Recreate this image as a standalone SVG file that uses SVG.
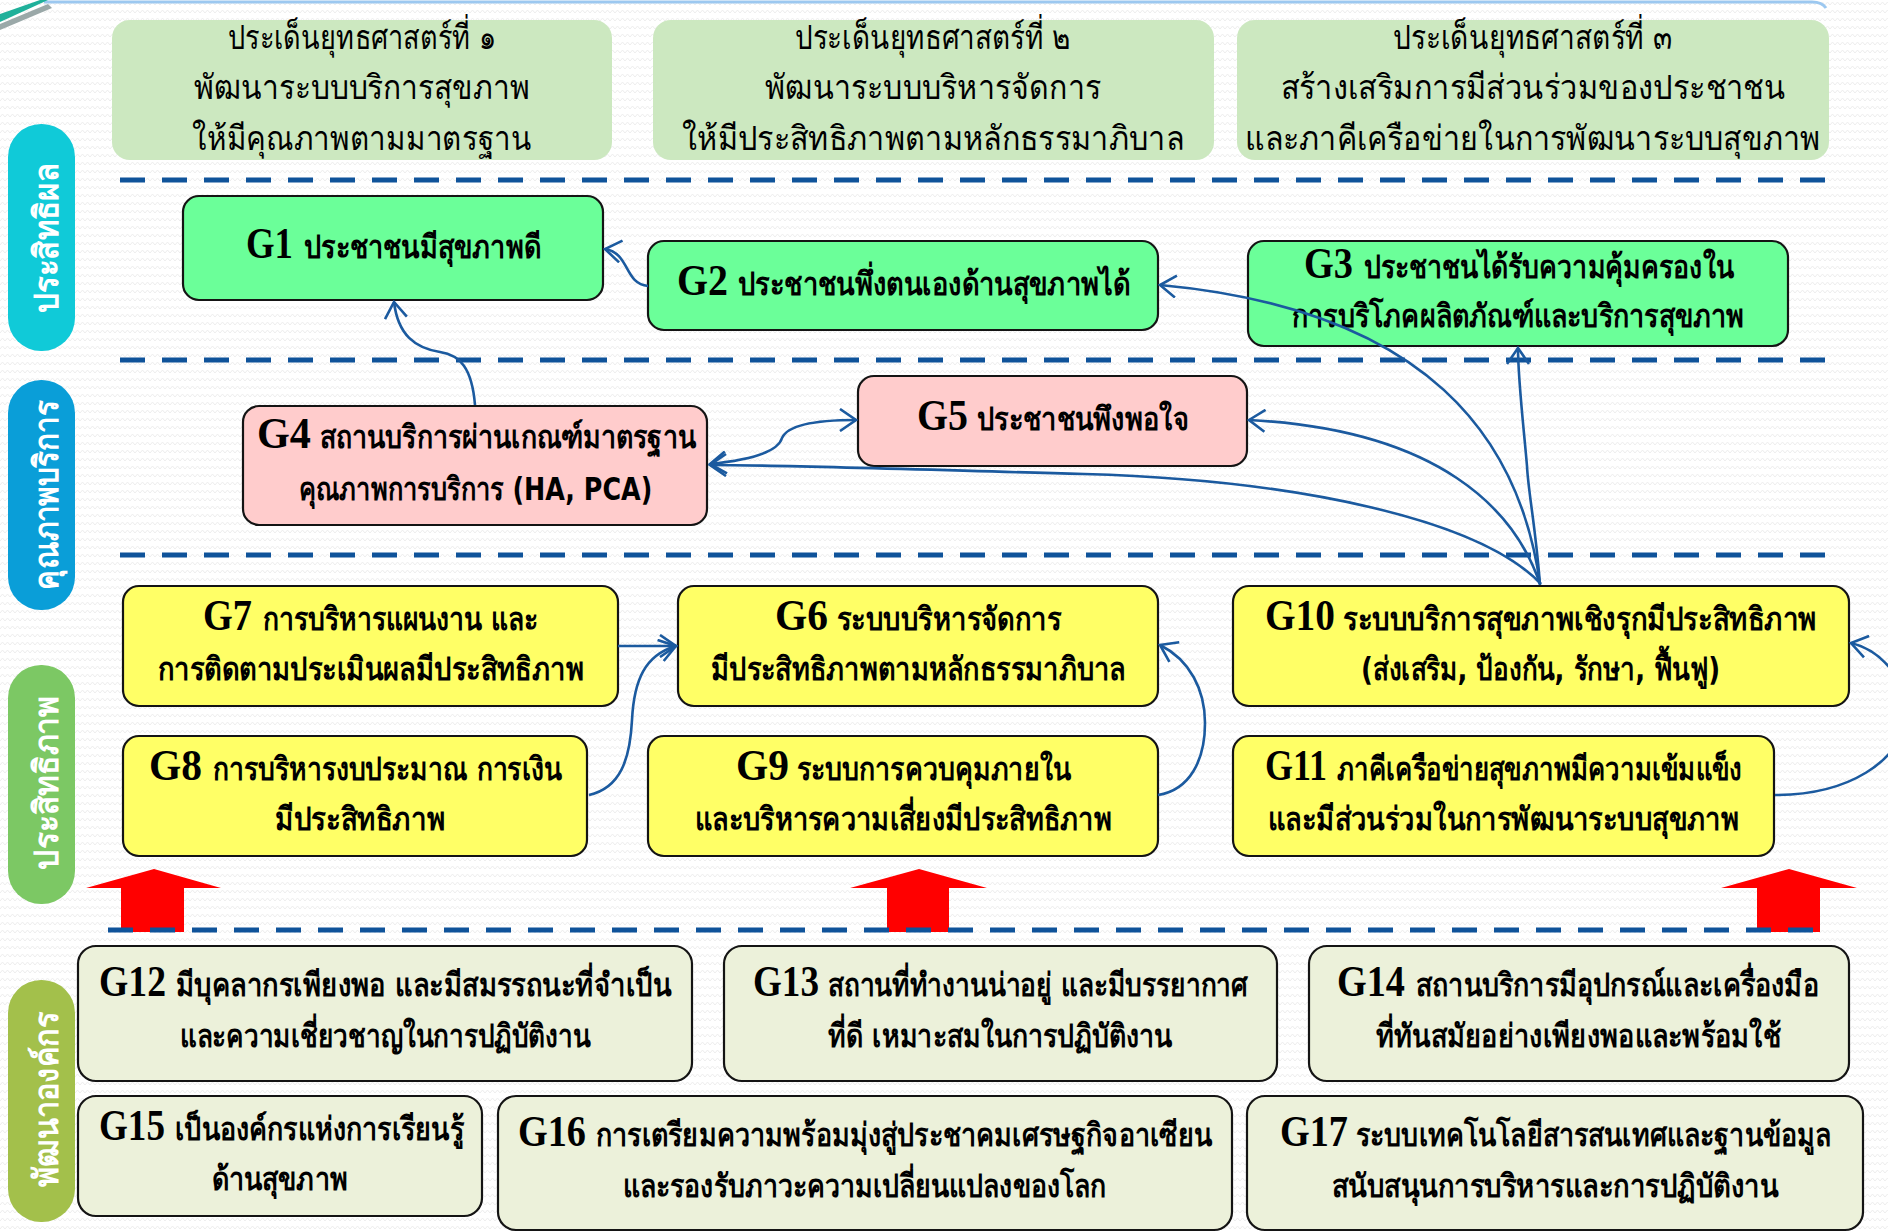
<svg xmlns="http://www.w3.org/2000/svg" width="1888" height="1232" viewBox="0 0 1888 1232">
<defs>
<pattern id="bgp" width="10" height="8" patternUnits="userSpaceOnUse"><path d="M0 5 L2.5 2 L5 5 L7.5 2 L10 5" fill="none" stroke="#ededed" stroke-width="1"/></pattern>
<marker id="ah" viewBox="0 0 20 24" markerWidth="20" markerHeight="24" refX="18" refY="12" orient="auto-start-reverse" markerUnits="userSpaceOnUse"><path d="M2,1 L18,12 L2,23" fill="none" stroke="#1b5a9f" stroke-width="2.6"/></marker>
<style>
.hdr{fill:#cce8c0}
.n{stroke:#141414;stroke-width:2.2}
.gr{fill:#6bff99}
.pk{fill:#ffcccc}
.yl{fill:#ffff66}
.cr{fill:#ecf1da}
.th{font-family:"DejaVu Sans","Noto Sans",sans-serif;font-size:32px;font-weight:bold;fill:#000}
.hd{font-family:"DejaVu Sans","Noto Sans",sans-serif;font-size:34px;fill:#000;text-anchor:middle}
.gl{font-family:"Liberation Serif",serif;font-size:44px;font-weight:bold;fill:#000}
.pl{font-family:"DejaVu Sans","Noto Sans",sans-serif;font-size:34px;font-weight:bold;fill:#fff}
.dash{stroke:#0f539a;stroke-width:5;stroke-dasharray:25 17;fill:none}
.cn{fill:none;stroke:#1b5a9f;stroke-width:2.6}
.ra{fill:#ff0000}
</style>
</defs>
<rect x="0" y="0" width="1888" height="1232" fill="#ffffff"/>
<rect x="0" y="0" width="1888" height="1232" fill="url(#bgp)"/>
<!-- top decoration -->
<path d="M44 2 L1812 2 Q1822 2 1826 8" fill="none" stroke="#9cc8f0" stroke-width="3"/>
<polygon points="0,14 40,0 48,0 0,22" fill="#1fb09a"/>
<polygon points="0,24 48,4 52,8 0,30" fill="#9aa8a8"/>

<!-- side pills -->
<g id="pill1"><rect x="8" y="124" width="67" height="227" rx="33" fill="#10cad8"/><text class="pl" transform="translate(58,238) rotate(-90)" text-anchor="middle" textLength="150" lengthAdjust="spacingAndGlyphs">ประสิทธิผล</text></g>
<g id="pill2"><rect x="8" y="380" width="67" height="230" rx="33" fill="#0a9ed8"/><text class="pl" transform="translate(58,495) rotate(-90)" text-anchor="middle" textLength="189" lengthAdjust="spacingAndGlyphs">คุณภาพบริการ</text></g>
<g id="pill3"><rect x="8" y="665" width="67" height="239" rx="33" fill="#7cc864"/><text class="pl" transform="translate(58,783) rotate(-90)" text-anchor="middle" textLength="173" lengthAdjust="spacingAndGlyphs">ประสิทธิภาพ</text></g>
<g id="pill4"><rect x="8" y="980" width="67" height="242" rx="33" fill="#a3c04b"/><text class="pl" transform="translate(58,1099) rotate(-90)" text-anchor="middle" textLength="175" lengthAdjust="spacingAndGlyphs">พัฒนาองค์กร</text></g>

<!-- header boxes -->
<g id="H1"><rect class="hdr" x="112" y="20" width="500" height="140" rx="18"/>
<text class="hd" transform="translate(362,49) scale(0.75,1)" textLength="357" lengthAdjust="spacingAndGlyphs">ประเด็นยุทธศาสตร์ที่ ๑</text>
<text class="hd" transform="translate(362,99) scale(0.75,1)" textLength="448" lengthAdjust="spacingAndGlyphs">พัฒนาระบบบริการสุขภาพ</text>
<text class="hd" transform="translate(362,150) scale(0.75,1)" textLength="453" lengthAdjust="spacingAndGlyphs">ให้มีคุณภาพตามมาตรฐาน</text></g>
<g id="H2"><rect class="hdr" x="653" y="20" width="561" height="140" rx="18"/>
<text class="hd" transform="translate(933,49) scale(0.75,1)" textLength="368" lengthAdjust="spacingAndGlyphs">ประเด็นยุทธศาสตร์ที่ ๒</text>
<text class="hd" transform="translate(933,99) scale(0.75,1)" textLength="448" lengthAdjust="spacingAndGlyphs">พัฒนาระบบบริหารจัดการ</text>
<text class="hd" transform="translate(933,150) scale(0.75,1)" textLength="669" lengthAdjust="spacingAndGlyphs">ให้มีประสิทธิภาพตามหลักธรรมาภิบาล</text></g>
<g id="H3"><rect class="hdr" x="1237" y="20" width="592" height="140" rx="18"/>
<text class="hd" transform="translate(1533,49) scale(0.75,1)" textLength="373" lengthAdjust="spacingAndGlyphs">ประเด็นยุทธศาสตร์ที่ ๓</text>
<text class="hd" transform="translate(1533,99) scale(0.75,1)" textLength="673" lengthAdjust="spacingAndGlyphs">สร้างเสริมการมีส่วนร่วมของประชาชน</text>
<text class="hd" transform="translate(1533,150) scale(0.75,1)" textLength="767" lengthAdjust="spacingAndGlyphs">และภาคีเครือข่ายในการพัฒนาระบบสุขภาพ</text></g>

<!-- red block arrows -->
<g id="redarrows">
<polygon class="ra" points="154,869 221,888 184,888 184,932 121,932 121,888 86,888"/>
<polygon class="ra" points="919,869 987,888 949,888 949,932 887,932 887,888 850,888"/>
<polygon class="ra" points="1789,869 1857,888 1820,888 1820,932 1757,932 1757,888 1721,888"/>
</g>

<!-- dashed separators -->
<g id="separators">
<line class="dash" x1="120" y1="180" x2="1830" y2="180"/>
<line class="dash" x1="120" y1="360" x2="1830" y2="360"/>
<line class="dash" x1="120" y1="555" x2="1830" y2="555"/>
<line class="dash" x1="108" y1="930" x2="1815" y2="930"/>
</g>

<!-- nodes -->
<g id="G1"><rect class="n gr" x="183" y="196" width="420" height="104" rx="16"/>
<text class="gl" x="246" y="258" textLength="47" lengthAdjust="spacingAndGlyphs">G1</text>
<text class="th" transform="translate(304,258) scale(0.75,1)" textLength="316" lengthAdjust="spacingAndGlyphs">ประชาชนมีสุขภาพดี</text></g>
<g id="G2"><rect class="n gr" x="648" y="241" width="510" height="89" rx="16"/>
<text class="gl" x="677" y="295" textLength="51" lengthAdjust="spacingAndGlyphs">G2</text>
<text class="th" transform="translate(738,295) scale(0.75,1)" textLength="523" lengthAdjust="spacingAndGlyphs">ประชาชนพึ่งตนเองด้านสุขภาพได้</text></g>
<g id="G3"><rect class="n gr" x="1248" y="241" width="540" height="105" rx="16"/>
<text class="gl" x="1304" y="278" textLength="49" lengthAdjust="spacingAndGlyphs">G3</text>
<text class="th" transform="translate(1364,278) scale(0.75,1)" textLength="493" lengthAdjust="spacingAndGlyphs">ประชาชนได้รับความคุ้มครองใน</text>
<text class="th" transform="translate(1292,327) scale(0.75,1)" textLength="603" lengthAdjust="spacingAndGlyphs">การบริโภคผลิตภัณฑ์และบริการสุขภาพ</text></g>
<g id="G4"><rect class="n pk" x="243" y="406" width="464" height="119" rx="16"/>
<text class="gl" x="257" y="448" textLength="54" lengthAdjust="spacingAndGlyphs">G4</text>
<text class="th" transform="translate(320,448) scale(0.75,1)" textLength="501" lengthAdjust="spacingAndGlyphs">สถานบริการผ่านเกณฑ์มาตรฐาน</text>
<text class="th" transform="translate(299,500) scale(0.75,1)" textLength="471" lengthAdjust="spacingAndGlyphs">คุณภาพการบริการ (HA, PCA)</text></g>
<g id="G5"><rect class="n pk" x="858" y="376" width="389" height="90" rx="16"/>
<text class="gl" x="917" y="430" textLength="51" lengthAdjust="spacingAndGlyphs">G5</text>
<text class="th" transform="translate(977,430) scale(0.75,1)" textLength="283" lengthAdjust="spacingAndGlyphs">ประชาชนพึงพอใจ</text></g>
<g id="G6"><rect class="n yl" x="678" y="586" width="480" height="120" rx="16"/>
<text class="gl" x="775" y="630" textLength="53" lengthAdjust="spacingAndGlyphs">G6</text>
<text class="th" transform="translate(837,630) scale(0.75,1)" textLength="299" lengthAdjust="spacingAndGlyphs">ระบบบริหารจัดการ</text>
<text class="th" transform="translate(711,680) scale(0.75,1)" textLength="553" lengthAdjust="spacingAndGlyphs">มีประสิทธิภาพตามหลักธรรมาภิบาล</text></g>
<g id="G7"><rect class="n yl" x="123" y="586" width="495" height="120" rx="16"/>
<text class="gl" x="203" y="630" textLength="49" lengthAdjust="spacingAndGlyphs">G7</text>
<text class="th" transform="translate(263,630) scale(0.75,1)" textLength="367" lengthAdjust="spacingAndGlyphs">การบริหารแผนงาน และ</text>
<text class="th" transform="translate(158,680) scale(0.75,1)" textLength="568" lengthAdjust="spacingAndGlyphs">การติดตามประเมินผลมีประสิทธิภาพ</text></g>
<g id="G8"><rect class="n yl" x="123" y="736" width="464" height="120" rx="16"/>
<text class="gl" x="149" y="780" textLength="53" lengthAdjust="spacingAndGlyphs">G8</text>
<text class="th" transform="translate(213,780) scale(0.75,1)" textLength="465" lengthAdjust="spacingAndGlyphs">การบริหารงบประมาณ การเงิน</text>
<text class="th" transform="translate(275,830) scale(0.75,1)" textLength="227" lengthAdjust="spacingAndGlyphs">มีประสิทธิภาพ</text></g>
<g id="G9"><rect class="n yl" x="648" y="736" width="510" height="120" rx="16"/>
<text class="gl" x="736" y="780" textLength="53" lengthAdjust="spacingAndGlyphs">G9</text>
<text class="th" transform="translate(797,780) scale(0.75,1)" textLength="365" lengthAdjust="spacingAndGlyphs">ระบบการควบคุมภายใน</text>
<text class="th" transform="translate(695,830) scale(0.75,1)" textLength="556" lengthAdjust="spacingAndGlyphs">และบริหารความเสี่ยงมีประสิทธิภาพ</text></g>
<g id="G10"><rect class="n yl" x="1233" y="586" width="616" height="120" rx="16"/>
<text class="gl" x="1265" y="630" textLength="70" lengthAdjust="spacingAndGlyphs">G10</text>
<text class="th" transform="translate(1343,630) scale(0.75,1)" textLength="632" lengthAdjust="spacingAndGlyphs">ระบบบริการสุขภาพเชิงรุกมีประสิทธิภาพ</text>
<text class="th" transform="translate(1361,680) scale(0.75,1)" textLength="479" lengthAdjust="spacingAndGlyphs">(ส่งเสริม, ป้องกัน, รักษา, ฟื้นฟู)</text></g>
<g id="G11"><rect class="n yl" x="1233" y="736" width="541" height="120" rx="16"/>
<text class="gl" x="1265" y="780" textLength="62" lengthAdjust="spacingAndGlyphs">G11</text>
<text class="th" transform="translate(1337,780) scale(0.75,1)" textLength="540" lengthAdjust="spacingAndGlyphs">ภาคีเครือข่ายสุขภาพมีความเข้มแข็ง</text>
<text class="th" transform="translate(1268,830) scale(0.75,1)" textLength="628" lengthAdjust="spacingAndGlyphs">และมีส่วนร่วมในการพัฒนาระบบสุขภาพ</text></g>
<g id="G12"><rect class="n cr" x="78" y="946" width="614" height="135" rx="18"/>
<text class="gl" x="99" y="996" textLength="67" lengthAdjust="spacingAndGlyphs">G12</text>
<text class="th" transform="translate(176,996) scale(0.75,1)" textLength="660" lengthAdjust="spacingAndGlyphs">มีบุคลากรเพียงพอ และมีสมรรถนะที่จำเป็น</text>
<text class="th" transform="translate(180,1047) scale(0.75,1)" textLength="547" lengthAdjust="spacingAndGlyphs">และความเชี่ยวชาญในการปฏิบัติงาน</text></g>
<g id="G13"><rect class="n cr" x="724" y="946" width="553" height="135" rx="18"/>
<text class="gl" x="753" y="996" textLength="66" lengthAdjust="spacingAndGlyphs">G13</text>
<text class="th" transform="translate(828,996) scale(0.75,1)" textLength="560" lengthAdjust="spacingAndGlyphs">สถานที่ทำงานน่าอยู่ และมีบรรยากาศ</text>
<text class="th" transform="translate(828,1047) scale(0.75,1)" textLength="459" lengthAdjust="spacingAndGlyphs">ที่ดี เหมาะสมในการปฏิบัติงาน</text></g>
<g id="G14"><rect class="n cr" x="1309" y="946" width="540" height="135" rx="18"/>
<text class="gl" x="1337" y="996" textLength="68" lengthAdjust="spacingAndGlyphs">G14</text>
<text class="th" transform="translate(1416,996) scale(0.75,1)" textLength="537" lengthAdjust="spacingAndGlyphs">สถานบริการมีอุปกรณ์และเครื่องมือ</text>
<text class="th" transform="translate(1376,1047) scale(0.75,1)" textLength="540" lengthAdjust="spacingAndGlyphs">ที่ทันสมัยอย่างเพียงพอและพร้อมใช้</text></g>
<g id="G15"><rect class="n cr" x="78" y="1096" width="404" height="120" rx="18"/>
<text class="gl" x="99" y="1140" textLength="66" lengthAdjust="spacingAndGlyphs">G15</text>
<text class="th" transform="translate(175,1140) scale(0.75,1)" textLength="385" lengthAdjust="spacingAndGlyphs">เป็นองค์กรแห่งการเรียนรู้</text>
<text class="th" transform="translate(212,1190) scale(0.75,1)" textLength="181" lengthAdjust="spacingAndGlyphs">ด้านสุขภาพ</text></g>
<g id="G16"><rect class="n cr" x="498" y="1096" width="734" height="134" rx="18"/>
<text class="gl" x="518" y="1146" textLength="68" lengthAdjust="spacingAndGlyphs">G16</text>
<text class="th" transform="translate(596,1146) scale(0.75,1)" textLength="821" lengthAdjust="spacingAndGlyphs">การเตรียมความพร้อมมุ่งสู่ประชาคมเศรษฐกิจอาเซียน</text>
<text class="th" transform="translate(623,1197) scale(0.75,1)" textLength="644" lengthAdjust="spacingAndGlyphs">และรองรับภาวะความเปลี่ยนแปลงของโลก</text></g>
<g id="G17"><rect class="n cr" x="1247" y="1096" width="616" height="134" rx="18"/>
<text class="gl" x="1280" y="1146" textLength="68" lengthAdjust="spacingAndGlyphs">G17</text>
<text class="th" transform="translate(1356,1146) scale(0.75,1)" textLength="633" lengthAdjust="spacingAndGlyphs">ระบบเทคโนโลยีสารสนเทศและฐานข้อมูล</text>
<text class="th" transform="translate(1332,1197) scale(0.75,1)" textLength="595" lengthAdjust="spacingAndGlyphs">สนับสนุนการบริหารและการปฏิบัติงาน</text></g>

<!-- connectors -->
<g id="connectors">
<path class="cn" d="M648,286 C624,284 630,253 605,249" marker-end="url(#ah)"/>
<path class="cn" d="M475,405 C472,368 460,355 440,352 C415,348 398,335 394,302" marker-end="url(#ah)"/>
<path class="cn" d="M710,464 C750,460 778,452 782,438 C788,424 820,420 856,420" marker-start="url(#ah)" marker-end="url(#ah)"/>
<path class="cn" d="M1541,584 C1480,520 1300,480 1084,474 C900,469 780,465 710,465" marker-end="url(#ah)"/>
<path class="cn" d="M1540,584 C1515,510 1440,430 1249,420" marker-end="url(#ah)"/>
<path class="cn" d="M1540,584 C1520,440 1430,310 1160,285" marker-end="url(#ah)"/>
<path class="cn" d="M1540,585 C1536,530 1528,490 1527,466 C1524,430 1518,380 1518,348" marker-end="url(#ah)"/>
<path class="cn" d="M618,646 L676,646" marker-end="url(#ah)"/>
<path class="cn" d="M589,795 C620,788 630,760 632,720 C634,680 645,655 676,646" marker-end="url(#ah)"/>
<path class="cn" d="M1158,795 C1190,790 1205,760 1205,723 C1205,690 1190,660 1160,645" marker-end="url(#ah)"/>
<path class="cn" d="M1775,795 C1850,795 1900,760 1905,720 C1910,680 1880,650 1851,643" marker-end="url(#ah)"/>
</g>
</svg>
